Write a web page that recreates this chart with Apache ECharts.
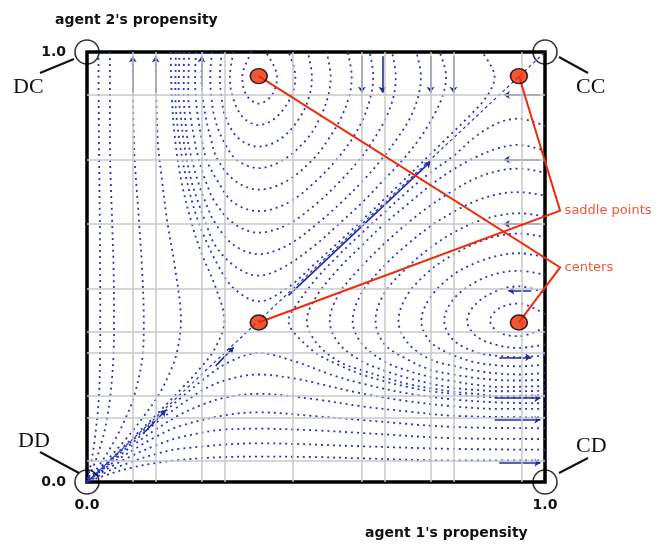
<!DOCTYPE html>
<html>
<head>
<meta charset="utf-8">
<script src="https://cdn.jsdelivr.net/npm/echarts@6/dist/echarts.min.js"></script>
<style>html,body{margin:0;padding:0;background:#fff}#chart{width:666px;height:545px}</style>
</head>
<body>
<div id="chart"></div>
<script>
// tick values on both axes
const axisTicks = [0, 1];

// light grey grid lines of the original scan (not evenly spaced)
const gridX = [0.1, 0.15, 0.25, 0.3, 0.45, 0.6, 0.65, 0.75, 0.8, 0.95];
const gridY = [0.05, 0.15, 0.2, 0.3, 0.35, 0.45, 0.6, 0.75, 0.9];

// trajectories on the left side, running top to the DD corner
const leftCurves = [
  [[0.025,1],[0.026,0.8],[0.028,0.6],[0.029,0.375],[0.026,0.2],[0.017,0.1],[0.01,0.05],[0,0]],
  [[0.05,1],[0.05,0.8],[0.055,0.6],[0.058,0.5],[0.059,0.375],[0.058,0.3],[0.051,0.2],[0.044,0.15],[0.034,0.1],[0.019,0.05],[0,0]],
  [[0.1,1],[0.102,0.8],[0.114,0.6],[0.12,0.5],[0.124,0.375],[0.122,0.3],[0.103,0.2],[0.085,0.15],[0.062,0.1],[0.034,0.05],[0,0]],
  [[0.15,1],[0.154,0.8],[0.164,0.7],[0.176,0.6],[0.192,0.5],[0.205,0.375],[0.196,0.3],[0.179,0.25],[0.155,0.2],[0.122,0.15],[0.085,0.1],[0.043,0.05],[0,0]],
  [[0.183,1],[0.185,0.9],[0.192,0.8],[0.206,0.7],[0.229,0.6],[0.25,0.532],[0.28,0.455],[0.3,0.375],[0.28,0.312],[0.25,0.268],[0.2,0.21],[0.15,0.155],[0.1,0.103],[0.05,0.051],[0,0]]
];

// trajectories along the bottom, from the right edge to the DD corner
const bottomCurves = [
  [[1,0.05],[0.8,0.05],[0.6,0.055],[0.5,0.058],[0.375,0.059],[0.3,0.058],[0.2,0.051],[0.15,0.044],[0.1,0.034],[0.05,0.019],[0,0]],
  [[1,0.075],[0.8,0.077],[0.6,0.083],[0.375,0.09],[0.2,0.077],[0.15,0.065],[0.1,0.048],[0.05,0.027],[0,0]],
  [[1,0.1],[0.8,0.102],[0.6,0.114],[0.5,0.12],[0.375,0.124],[0.3,0.122],[0.2,0.103],[0.15,0.085],[0.1,0.062],[0.05,0.034],[0,0]],
  [[1,0.125],[0.8,0.128],[0.6,0.144],[0.5,0.153],[0.375,0.162],[0.3,0.155],[0.2,0.129],[0.15,0.105],[0.1,0.074],[0.05,0.04],[0,0]],
  [[1,0.15],[0.8,0.154],[0.7,0.164],[0.6,0.176],[0.5,0.192],[0.375,0.205],[0.3,0.196],[0.25,0.179],[0.2,0.155],[0.15,0.122],[0.1,0.085],[0.05,0.043],[0,0]],
  [[1,0.17],[0.9,0.17],[0.8,0.176],[0.7,0.188],[0.6,0.206],[0.5,0.23],[0.457,0.24],[0.375,0.25],[0.3,0.236],[0.25,0.212],[0.2,0.176],[0.15,0.137],[0.1,0.092],[0.05,0.047],[0,0]],
  [[1,0.183],[0.9,0.185],[0.8,0.192],[0.7,0.206],[0.6,0.229],[0.532,0.25],[0.455,0.28],[0.375,0.3],[0.312,0.28],[0.268,0.25],[0.21,0.2],[0.155,0.15],[0.103,0.1],[0.051,0.05],[0,0]]
];

// arcs round the upper centre
const upperArcs = [
  [[0.36,1],[0.339,0.943],[0.348,0.9],[0.375,0.88],[0.404,0.9],[0.415,0.943],[0.39,1]],
  [[0.32,1],[0.312,0.943],[0.317,0.9],[0.339,0.85],[0.375,0.83],[0.415,0.85],[0.447,0.9],[0.455,0.943],[0.44,1]],
  [[0.295,1],[0.29,0.943],[0.293,0.9],[0.302,0.85],[0.33,0.8],[0.375,0.78],[0.425,0.8],[0.466,0.85],[0.486,0.9],[0.491,0.943],[0.482,1]],
  [[0.273,1],[0.269,0.943],[0.271,0.9],[0.278,0.85],[0.295,0.8],[0.326,0.75],[0.375,0.73],[0.43,0.75],[0.482,0.8],[0.51,0.85],[0.527,0.9],[0.532,0.943],[0.523,1]],
  [[0.254,1],[0.25,0.943],[0.252,0.9],[0.259,0.85],[0.27,0.8],[0.285,0.75],[0.324,0.7],[0.375,0.68],[0.436,0.7],[0.493,0.75],[0.529,0.8],[0.556,0.85],[0.573,0.9],[0.578,0.943],[0.569,1]],
  [[0.238,1],[0.236,0.943],[0.237,0.9],[0.242,0.85],[0.25,0.8],[0.261,0.75],[0.285,0.7],[0.32,0.65],[0.375,0.63],[0.44,0.65],[0.5,0.7],[0.545,0.75],[0.58,0.8],[0.605,0.85],[0.62,0.9],[0.625,0.943],[0.617,1]],
  [[0.223,1],[0.221,0.9],[0.226,0.85],[0.234,0.8],[0.244,0.75],[0.259,0.7],[0.28,0.65],[0.322,0.6],[0.375,0.58],[0.44,0.6],[0.504,0.65],[0.553,0.7],[0.595,0.75],[0.628,0.8],[0.654,0.85],[0.67,0.9],[0.674,0.943],[0.666,1]],
  [[0.212,1],[0.211,0.9],[0.214,0.85],[0.219,0.8],[0.229,0.75],[0.242,0.7],[0.259,0.65],[0.281,0.6],[0.322,0.55],[0.375,0.53],[0.437,0.55],[0.502,0.6],[0.555,0.65],[0.602,0.7],[0.643,0.75],[0.678,0.8],[0.707,0.85],[0.724,0.9],[0.729,0.943],[0.719,1]],
  [[0.202,1],[0.2,0.9],[0.205,0.85],[0.21,0.8],[0.218,0.75],[0.228,0.7],[0.243,0.65],[0.26,0.6],[0.28,0.55],[0.325,0.5],[0.375,0.48],[0.43,0.5],[0.497,0.55],[0.55,0.6],[0.601,0.65],[0.646,0.7],[0.69,0.75],[0.727,0.8],[0.756,0.85],[0.777,0.9],[0.784,0.943],[0.77,1]],
  [[0.194,1],[0.193,0.9],[0.201,0.8],[0.218,0.7],[0.245,0.6],[0.288,0.5],[0.321,0.45],[0.375,0.42],[0.436,0.45],[0.49,0.5],[0.592,0.6],[0.69,0.7],[0.786,0.8],[0.834,0.85],[0.875,0.9],[0.89,0.943],[0.862,1]]
];

// arcs round the right centre
const rightArcs = [
  [[1,0.36],[0.943,0.339],[0.9,0.348],[0.88,0.375],[0.9,0.404],[0.943,0.415],[1,0.39]],
  [[1,0.32],[0.943,0.312],[0.9,0.317],[0.85,0.339],[0.83,0.375],[0.85,0.415],[0.9,0.447],[0.943,0.455],[1,0.44]],
  [[1,0.295],[0.943,0.29],[0.9,0.293],[0.85,0.302],[0.8,0.33],[0.78,0.375],[0.8,0.425],[0.85,0.466],[0.9,0.486],[0.943,0.491],[1,0.482]],
  [[1,0.273],[0.943,0.269],[0.9,0.271],[0.85,0.278],[0.8,0.295],[0.75,0.326],[0.73,0.375],[0.75,0.43],[0.8,0.482],[0.85,0.51],[0.9,0.527],[0.943,0.532],[1,0.523]],
  [[1,0.254],[0.943,0.25],[0.9,0.252],[0.85,0.259],[0.8,0.27],[0.75,0.285],[0.7,0.324],[0.68,0.375],[0.7,0.436],[0.75,0.493],[0.8,0.529],[0.85,0.556],[0.9,0.573],[0.943,0.578],[1,0.569]],
  [[1,0.238],[0.943,0.236],[0.9,0.237],[0.85,0.242],[0.8,0.25],[0.75,0.261],[0.7,0.285],[0.65,0.32],[0.63,0.375],[0.65,0.44],[0.7,0.5],[0.75,0.545],[0.8,0.58],[0.85,0.605],[0.9,0.62],[0.943,0.625],[1,0.617]],
  [[1,0.223],[0.9,0.221],[0.85,0.226],[0.8,0.234],[0.75,0.244],[0.7,0.259],[0.65,0.28],[0.6,0.322],[0.58,0.375],[0.6,0.44],[0.65,0.504],[0.7,0.553],[0.75,0.595],[0.8,0.628],[0.85,0.654],[0.9,0.67],[0.943,0.674],[1,0.666]],
  [[1,0.212],[0.9,0.211],[0.85,0.214],[0.8,0.219],[0.75,0.229],[0.7,0.242],[0.65,0.259],[0.6,0.281],[0.55,0.322],[0.53,0.375],[0.55,0.437],[0.6,0.502],[0.65,0.555],[0.7,0.602],[0.75,0.643],[0.8,0.678],[0.85,0.707],[0.9,0.724],[0.943,0.729],[1,0.719]],
  [[1,0.202],[0.9,0.2],[0.85,0.205],[0.8,0.21],[0.75,0.218],[0.7,0.228],[0.65,0.243],[0.6,0.26],[0.55,0.28],[0.5,0.325],[0.48,0.375],[0.5,0.43],[0.55,0.497],[0.6,0.55],[0.65,0.601],[0.7,0.646],[0.75,0.69],[0.8,0.727],[0.85,0.756],[0.9,0.777],[0.943,0.784],[1,0.77]],
  [[1,0.196],[0.9,0.197],[0.85,0.199],[0.8,0.205],[0.75,0.211],[0.7,0.221],[0.65,0.234],[0.6,0.25],[0.55,0.272],[0.5,0.3],[0.45,0.35],[0.44,0.375],[0.45,0.4],[0.5,0.472],[0.55,0.528],[0.6,0.579],[0.65,0.628],[0.7,0.676],[0.75,0.72],[0.8,0.758],[0.85,0.805],[0.9,0.836],[0.943,0.845],[1,0.828]]
];

// the diagonal through both saddles
const diagonal = [[0,0],[0.5,0.5],[1,1]];

// short solid pieces with arrow heads
const arrows = [
  [[0.1,0.905],[0.1,0.99]], [[0.15,0.905],[0.15,0.99]], [[0.25,0.92],[0.25,0.99]],
  [[0.6,0.99],[0.6,0.905]], [[0.645,0.99],[0.645,0.905]], [[0.75,0.99],[0.75,0.905]], [[0.8,0.99],[0.8,0.905]],
  [[0.99,0.9],[0.91,0.9]], [[0.99,0.75],[0.91,0.75]], [[0.99,0.6],[0.91,0.6]], [[0.97,0.445],[0.92,0.445]],
  [[0.9,0.29],[0.97,0.29]], [[0.89,0.195],[0.99,0.195]], [[0.89,0.145],[0.99,0.145]], [[0.9,0.045],[0.99,0.045]],
  [[0.124,0.114],[0.172,0.167]], [[0.281,0.27],[0.32,0.313]], [[0.44,0.434],[0.75,0.745]]
];

// fixed points and where their labels sit
const saddles = [[0.943,0.944],[0.375,0.371]];
const centers = [[0.375,0.944],[0.943,0.371]];
const saddleLabelAt = [1.033, 0.631];
const centerLabelAt = [1.033, 0.499];
const corners = [[0,1],[1,1],[0,0],[1,0]];

const blue = '#2a36c2';
const red = '#f22a08';
const series = [];

series.push({
  type: 'line', data: [[0,0]], symbol: 'none', lineStyle: {opacity: 0}, z: 1, silent: true,
  markLine: {
    silent: true, symbol: 'none', label: {show: false}, animation: false,
    lineStyle: {color: '#c8c8c8', width: 1.5, type: 'solid'},
    data: gridX.map(v => ({xAxis: v})).concat(gridY.map(v => ({yAxis: v})))
  }
});

[leftCurves, bottomCurves, upperArcs, rightArcs].forEach(group => {
  group.forEach(pts => {
    series.push({
      type: 'line', data: pts, smooth: 0.35, symbol: 'none', z: 2, silent: true,
      lineStyle: {color: blue, width: 1.8, type: [2, 4]}
    });
  });
});

series.push({
  type: 'line', data: diagonal, symbol: 'none', z: 2, silent: true,
  lineStyle: {color: blue, width: 1.2, type: [3, 3]}
});

series.push({
  type: 'lines', coordinateSystem: 'cartesian2d', z: 3, silent: true,
  symbol: ['none', 'arrow'], symbolSize: 6,
  lineStyle: {color: '#1f2c9e', width: 1.6, opacity: 1},
  data: arrows.map(a => ({coords: a}))
});

series.push({
  type: 'scatter', data: corners, clip: false, symbol: 'circle', symbolSize: 24, z: 60, silent: true,
  itemStyle: {color: 'rgba(255,255,255,0)', borderColor: '#000', borderWidth: 1.6}
});

series.push({
  type: 'scatter', data: saddles.concat(centers), clip: false, symbol: 'circle', symbolSize: [17, 15], z: 70, silent: true,
  itemStyle: {color: '#ee2a00', borderColor: '#000', borderWidth: 1.5}
});

series.push({
  type: 'scatter', clip: false, symbolSize: 1, z: 70, silent: true,
  itemStyle: {color: 'rgba(0,0,0,0)'},
  label: {show: true, position: 'right', distance: 4, formatter: '{b}', color: red, fontSize: 13, fontFamily: 'DejaVu Sans'},
  data: [{name: 'saddle points', value: saddleLabelAt}, {name: 'centers', value: centerLabelAt}]
});

const tickLabel = {fontSize: 14, fontWeight: 'bold', color: '#111', fontFamily: 'DejaVu Sans', formatter: v => v.toFixed(1)};

const serif = '22px "Liberation Serif"';
const titleFont = 'bold 14px "DejaVu Sans"';
const chart = echarts.init(document.getElementById('chart'));
chart.setOption({
  animation: false,
  backgroundColor: '#fff',
  grid: {left: 87, top: 52, width: 458, height: 430, show: true, borderColor: '#000', borderWidth: 3.5, backgroundColor: 'rgba(0,0,0,0)'},
  xAxis: {
    type: 'value', min: axisTicks[0], max: axisTicks[1], interval: 1,
    axisLine: {show: false}, axisTick: {show: false}, splitLine: {show: false},
    axisLabel: Object.assign({margin: 16}, tickLabel)
  },
  yAxis: {
    type: 'value', min: axisTicks[0], max: axisTicks[1], interval: 1,
    axisLine: {show: false}, axisTick: {show: false}, splitLine: {show: false},
    axisLabel: Object.assign({margin: 21}, tickLabel)
  },
  series: series
});

// red leader lines from the fixed points to their labels (positions via the axes)
const px = p => chart.convertToPixel({gridIndex: 0}, p);
const leader = pts => ({
  type: 'polyline', z: 65, silent: true,
  shape: {points: pts.map(px)},
  style: {stroke: red, lineWidth: 2, fill: null}
});

chart.setOption({
  graphic: [
    leader([saddles[0], saddleLabelAt, saddles[1]]),
    leader([centers[0], centerLabelAt, centers[1]]),
    {type: 'text', x: 55, y: 20, style: {text: "agent 2's propensity", font: titleFont, fill: '#111', verticalAlign: 'middle'}},
    {type: 'text', x: 365, y: 533, style: {text: "agent 1's propensity", font: titleFont, fill: '#111', verticalAlign: 'middle'}},
    {type: 'text', x: 13, y: 87, style: {text: 'DC', font: serif, fill: '#111', verticalAlign: 'middle'}},
    {type: 'text', x: 576, y: 87, style: {text: 'CC', font: serif, fill: '#111', verticalAlign: 'middle'}},
    {type: 'text', x: 18, y: 441, style: {text: 'DD', font: serif, fill: '#111', verticalAlign: 'middle'}},
    {type: 'text', x: 576, y: 446, style: {text: 'CD', font: serif, fill: '#111', verticalAlign: 'middle'}},
    {type: 'line', shape: {x1: 40, y1: 73, x2: 74, y2: 59}, style: {stroke: '#111', lineWidth: 2}},
    {type: 'line', shape: {x1: 559, y1: 57, x2: 588, y2: 73}, style: {stroke: '#111', lineWidth: 2}},
    {type: 'line', shape: {x1: 40, y1: 452, x2: 79, y2: 473}, style: {stroke: '#111', lineWidth: 2}},
    {type: 'line', shape: {x1: 588, y1: 458, x2: 559, y2: 473}, style: {stroke: '#111', lineWidth: 2}}
  ]
});
</script>
</body>
</html>
